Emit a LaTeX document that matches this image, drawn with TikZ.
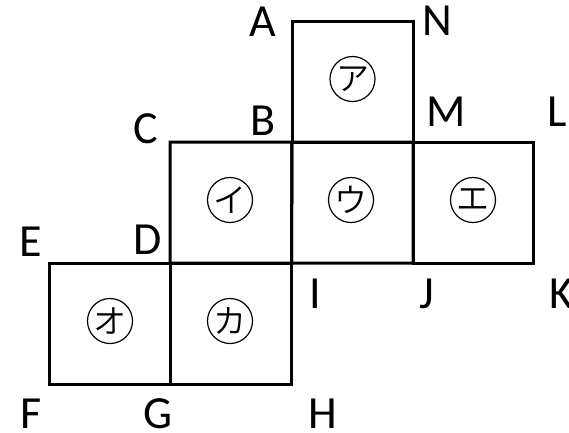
\documentclass[tikz,border=0pt]{standalone}
\usepackage{fontspec}
\setmainfont{Carlito}
\newfontfamily\jp{Noto Sans CJK JP DemiLight}
\tikzset{
  x=1pt,y=-1pt,
  facebox/.style={draw=black,line width=3pt,line join=miter},
  kana/.style={draw=black,circle,line width=1.2pt,minimum size=45pt,inner sep=0pt,font=\jp\fontsize{33}{33}\selectfont},
  lab/.style={font=\fontsize{46}{46}\selectfont,inner sep=0pt,anchor=center,text=black}
}
\begin{document}
\begin{tikzpicture}
\useasboundingbox (0,0) rectangle (569,432);
\coordinate (a) at (292,21);
\coordinate (n) at (413,21);
\coordinate (b) at (292,142);
\coordinate (m) at (413,142);
\coordinate (l) at (533,142);
\coordinate (c) at (170,142);
\coordinate (d) at (170,263);
\coordinate (i) at (291.5,263);
\coordinate (j) at (413,263);
\coordinate (k) at (533,263);
\coordinate (e) at (49.5,263);
\coordinate (f) at (49.5,384);
\coordinate (g) at (170,384);
\coordinate (h) at (291.5,384);
\draw[facebox] (a) -- (n) -- (m) -- (b) -- cycle;
\draw[facebox] (c) -- (b) -- (i) -- (d) -- cycle;
\draw[facebox] (b) -- (m) -- (j) -- (i) -- cycle;
\draw[facebox] (m) -- (l) -- (k) -- (j) -- cycle;
\draw[facebox] (e) -- (d) -- (g) -- (f) -- cycle;
\draw[facebox] (d) -- (i) -- (h) -- (g) -- cycle;
\node[kana] (ka) at (352.5,79) {ア};
\node[kana] (ki) at (230,200) {イ};
\node[kana] (ku) at (351,200) {ウ};
\node[kana] (ke) at (473,200) {エ};
\node[kana] (ko) at (110,321) {オ};
\node[kana] (kk) at (230,321) {カ};
\node[lab] (la) at (263,22) {A};
\node[lab] (ln) at (437,21) {N};
\node[lab] (lb) at (263.5,121) {B};
\node[lab] (lm) at (446,112) {M};
\node[lab] (ll) at (557,112) {L};
\node[lab] (lc) at (146,129) {C};
\node[lab] (ld) at (147.5,240) {D};
\node[lab] (le) at (31,242) {E};
\node[lab] (li) at (315,293.5) {I};
\node[lab] (lj) at (427,293.5) {J};
\node[lab] (lk) at (561,293.5) {K};
\node[lab] (lf) at (31,413.5) {F};
\node[lab] (lg) at (158,413.5) {G};
\node[lab] (lh) at (323,413.5) {H};
\end{tikzpicture}
\end{document}
